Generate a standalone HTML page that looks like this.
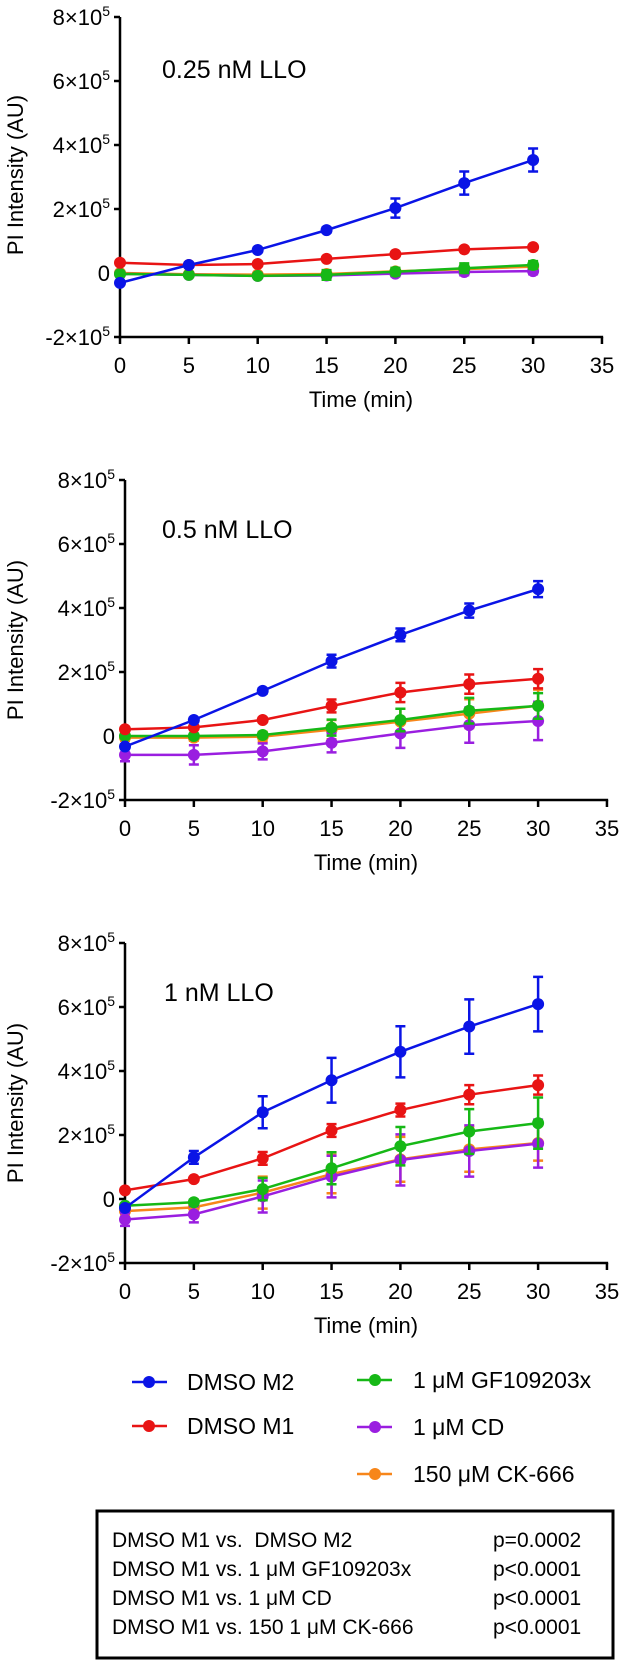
<!DOCTYPE html>
<html><head><meta charset="utf-8"><style>
html,body{margin:0;padding:0;background:#fff;}
svg{display:block;font-family:"Liberation Sans",Arial,sans-serif;}
</style></head><body>
<svg id="fig" width="627" height="1666" viewBox="0 0 627 1666" xmlns="http://www.w3.org/2000/svg">
<g id="legend">
  <g><line x1="132" y1="1382" x2="167" y2="1382" stroke="#0a14e6" stroke-width="2.5"/><circle cx="149" cy="1382" r="6" fill="#0a14e6"/><text x="187" y="1390" font-size="23">DMSO M2</text></g>
  <g><line x1="132" y1="1426" x2="167" y2="1426" stroke="#e81414" stroke-width="2.5"/><circle cx="149" cy="1426" r="6" fill="#e81414"/><text x="187" y="1434" font-size="23">DMSO M1</text></g>
  <g><line x1="357" y1="1380" x2="392" y2="1380" stroke="#16b816" stroke-width="2.5"/><circle cx="375" cy="1380" r="6" fill="#16b816"/><text x="413" y="1388" font-size="23">1 μM GF109203x</text></g>
  <g><line x1="357" y1="1427" x2="392" y2="1427" stroke="#9a1ee0" stroke-width="2.5"/><circle cx="375" cy="1427" r="6" fill="#9a1ee0"/><text x="413" y="1435" font-size="23">1 μM CD</text></g>
  <g><line x1="357" y1="1474" x2="392" y2="1474" stroke="#f7861a" stroke-width="2.5"/><circle cx="375" cy="1474" r="6" fill="#f7861a"/><text x="413" y="1482" font-size="23">150 μM CK-666</text></g>
</g>
<g>
  <rect x="97" y="1511" width="516" height="147" fill="none" stroke="#000" stroke-width="3"/>
  <g font-size="21">
    <text x="112" y="1547" xml:space="preserve">DMSO M1 vs.  DMSO M2</text>
    <text x="493" y="1547">p=0.0002</text>
    <text x="112" y="1576">DMSO M1 vs. 1 μM GF109203x</text>
    <text x="493" y="1576">p&lt;0.0001</text>
    <text x="112" y="1605">DMSO M1 vs. 1 μM CD</text>
    <text x="493" y="1605">p&lt;0.0001</text>
    <text x="112" y="1634">DMSO M1 vs. 150 1 μM CK-666</text>
    <text x="493" y="1634">p&lt;0.0001</text>
  </g>
</g>
</svg>
<script>
const times = [0, 5, 10, 15, 20, 25, 30];
const xTicks = [0, 5, 10, 15, 20, 25, 30, 35];
const yTicks = [8, 6, 4, 2, 0, -2];
const seriesNames = ["orange", "purple", "green", "red", "blue"];
const seriesColors = ["#f7861a", "#9a1ee0", "#16b816", "#e81414", "#0a14e6"];
const panelTitles = ["0.25 nM LLO", "0.5 nM LLO", "1 nM LLO"];
// values in units of 1e5
const p1Orange = [0, -0.04, -0.05, -0.03, 0.05, 0.12, 0.2];
const p1OrangeErr = [0.05, 0.05, 0.05, 0.1, 0.1, 0.12, 0.12];
const p1Purple = [-0.03, -0.06, -0.09, -0.08, -0.02, 0.03, 0.06];
const p1PurpleErr = [0.05, 0.05, 0.05, 0.08, 0.08, 0.1, 0.1];
const p1Green = [-0.03, -0.06, -0.09, -0.06, 0.04, 0.15, 0.25];
const p1GreenErr = [0.05, 0.05, 0.06, 0.15, 0.12, 0.15, 0.12];
const p1Red = [0.32, 0.25, 0.28, 0.44, 0.59, 0.74, 0.81];
const p1RedErr = [0.05, 0.05, 0.05, 0.05, 0.06, 0.06, 0.06];
const p1Blue = [-0.31, 0.25, 0.72, 1.34, 2.03, 2.81, 3.53];
const p1BlueErr = [0.05, 0.05, 0.06, 0.08, 0.3, 0.36, 0.36];

const p2Orange = [-0.05, -0.05, -0.02, 0.2, 0.45, 0.7, 0.95];
const p2OrangeErr = [0.1, 0.1, 0.15, 0.3, 0.4, 0.45, 0.5];
const p2Purple = [-0.59, -0.59, -0.48, -0.21, 0.08, 0.34, 0.47];
const p2PurpleErr = [0.2, 0.3, 0.25, 0.3, 0.45, 0.55, 0.6];
const p2Green = [0, 0, 0.03, 0.26, 0.5, 0.79, 0.94];
const p2GreenErr = [0.05, 0.05, 0.05, 0.25, 0.35, 0.4, 0.4];
const p2Red = [0.21, 0.27, 0.5, 0.94, 1.36, 1.62, 1.79];
const p2RedErr = [0.05, 0.05, 0.06, 0.2, 0.3, 0.3, 0.3];
const p2Blue = [-0.33, 0.5, 1.41, 2.34, 3.16, 3.92, 4.59];
const p2BlueErr = [0.05, 0.06, 0.08, 0.2, 0.2, 0.22, 0.25];

const p3Orange = [-0.38, -0.26, 0.2, 0.78, 1.24, 1.55, 1.75];
const p3OrangeErr = [0.1, 0.1, 0.5, 0.6, 0.7, 0.7, 0.55];
const p3Purple = [-0.64, -0.48, 0.08, 0.7, 1.22, 1.5, 1.73];
const p3PurpleErr = [0.2, 0.25, 0.5, 0.65, 0.8, 0.8, 0.75];
const p3Green = [-0.21, -0.1, 0.31, 0.96, 1.65, 2.11, 2.37];
const p3GreenErr = [0.05, 0.08, 0.35, 0.5, 0.6, 0.7, 0.8];
const p3Red = [0.27, 0.62, 1.27, 2.14, 2.78, 3.26, 3.56];
const p3RedErr = [0.05, 0.06, 0.2, 0.2, 0.2, 0.3, 0.3];
const p3Blue = [-0.28, 1.3, 2.71, 3.71, 4.6, 5.39, 6.09];
const p3BlueErr = [0.05, 0.2, 0.5, 0.7, 0.8, 0.85, 0.85];

const panelValues = [
  [p1Orange, p1Purple, p1Green, p1Red, p1Blue],
  [p2Orange, p2Purple, p2Green, p2Red, p2Blue],
  [p3Orange, p3Purple, p3Green, p3Red, p3Blue]
];
const panelErrors = [
  [p1OrangeErr, p1PurpleErr, p1GreenErr, p1RedErr, p1BlueErr],
  [p2OrangeErr, p2PurpleErr, p2GreenErr, p2RedErr, p2BlueErr],
  [p3OrangeErr, p3PurpleErr, p3GreenErr, p3RedErr, p3BlueErr]
];

const NS = "http://www.w3.org/2000/svg";
const svg = document.getElementById("fig");
function mk(tag, attrs, parent) {
  const e = document.createElementNS(NS, tag);
  for (const k in attrs) e.setAttribute(k, attrs[k]);
  parent.appendChild(e);
  return e;
}
const layouts = [
  {x0: 120, zero: 273, title: [162, 78], ytitle: 175},
  {x0: 125, zero: 736, title: [162, 538], ytitle: 640},
  {x0: 125, zero: 1199, title: [164, 1001], ytitle: 1103}
];
const kx = 13.77, ky = 32;
layouts.forEach((L, pi) => {
  const xs = t => L.x0 + t * kx;
  const ys = v => L.zero - v * ky;
  const g = mk("g", {}, svg);
  
  
  const ybot = ys(-2), ytop = ys(8);
  const yaxis = mk("line", {x1: L.x0, y1: ytop, x2: L.x0, y2: ybot + 1.2, stroke: "#000", "stroke-width": 2.5}, g);
  
  
  const xaxis = mk("line", {x1: L.x0 - 1.2, y1: ybot, x2: xs(35) + 1.2, y2: ybot, stroke: "#000", "stroke-width": 2.5}, g);
  
  
  yTicks.forEach(v => {
    const y = ys(v);
    mk("line", {x1: L.x0 - 6, y1: y, x2: L.x0, y2: y, stroke: "#000", "stroke-width": 2.5}, g);
    const t = mk("text", {x: L.x0 - 10, y: y + 8, "font-size": 22, "text-anchor": "end"}, g);
    
    
    if (v === 0) t.textContent = "0";
    else {
      t.appendChild(document.createTextNode(v + "\u00d710"));
      const s = mk("tspan", {dy: -9, "font-size": 14}, t);
      s.textContent = "5";
    }
  });
  xTicks.forEach(tv => {
    const x = xs(tv);
    mk("line", {x1: x, y1: ybot, x2: x, y2: ybot + 7, stroke: "#000", "stroke-width": 2.5}, g);
    const t = mk("text", {x: x, y: ybot + 36, "font-size": 22, "text-anchor": "middle"}, g);
    
    
    t.textContent = tv;
  });
  const xt = mk("text", {x: (xs(0) + xs(35)) / 2, y: ybot + 70, "font-size": 22, "text-anchor": "middle"}, g);
  
  
  xt.textContent = "Time (min)";
  const yt = mk("text", {x: 0, y: 0, "font-size": 22, "text-anchor": "middle", transform: "translate(23," + L.ytitle + ") rotate(-90)"}, g);
  
  
  yt.textContent = "PI Intensity (AU)";
  const pt = mk("text", {x: L.title[0], y: L.title[1], "font-size": 25}, g);
  
  
  pt.textContent = panelTitles[pi];
  panelValues[pi].forEach((vals, si) => {
    const col = seriesColors[si];
    const sg = mk("g", {}, g);
    
    
    const errs = panelErrors[pi][si];
    vals.forEach((v, i) => {
      const x = xs(times[i]), e = errs[i];
      const eb = mk("path", {d: "M" + x + "," + ys(v - e) + "V" + ys(v + e) + "M" + (x - 5) + "," + ys(v - e) + "H" + (x + 5) + "M" + (x - 5) + "," + ys(v + e) + "H" + (x + 5), stroke: col, "stroke-width": 2.5, fill: "none"}, sg);
      
      
    });
    const line = mk("polyline", {points: vals.map((v, i) => xs(times[i]) + "," + ys(v)).join(" "), fill: "none", stroke: col, "stroke-width": 2.5}, sg);
    
    
    vals.forEach((v, i) => {
      const c = mk("circle", {cx: xs(times[i]), cy: ys(v), r: 6, fill: col}, sg);
      
      
    });
  });
});
</script>
</body></html>
